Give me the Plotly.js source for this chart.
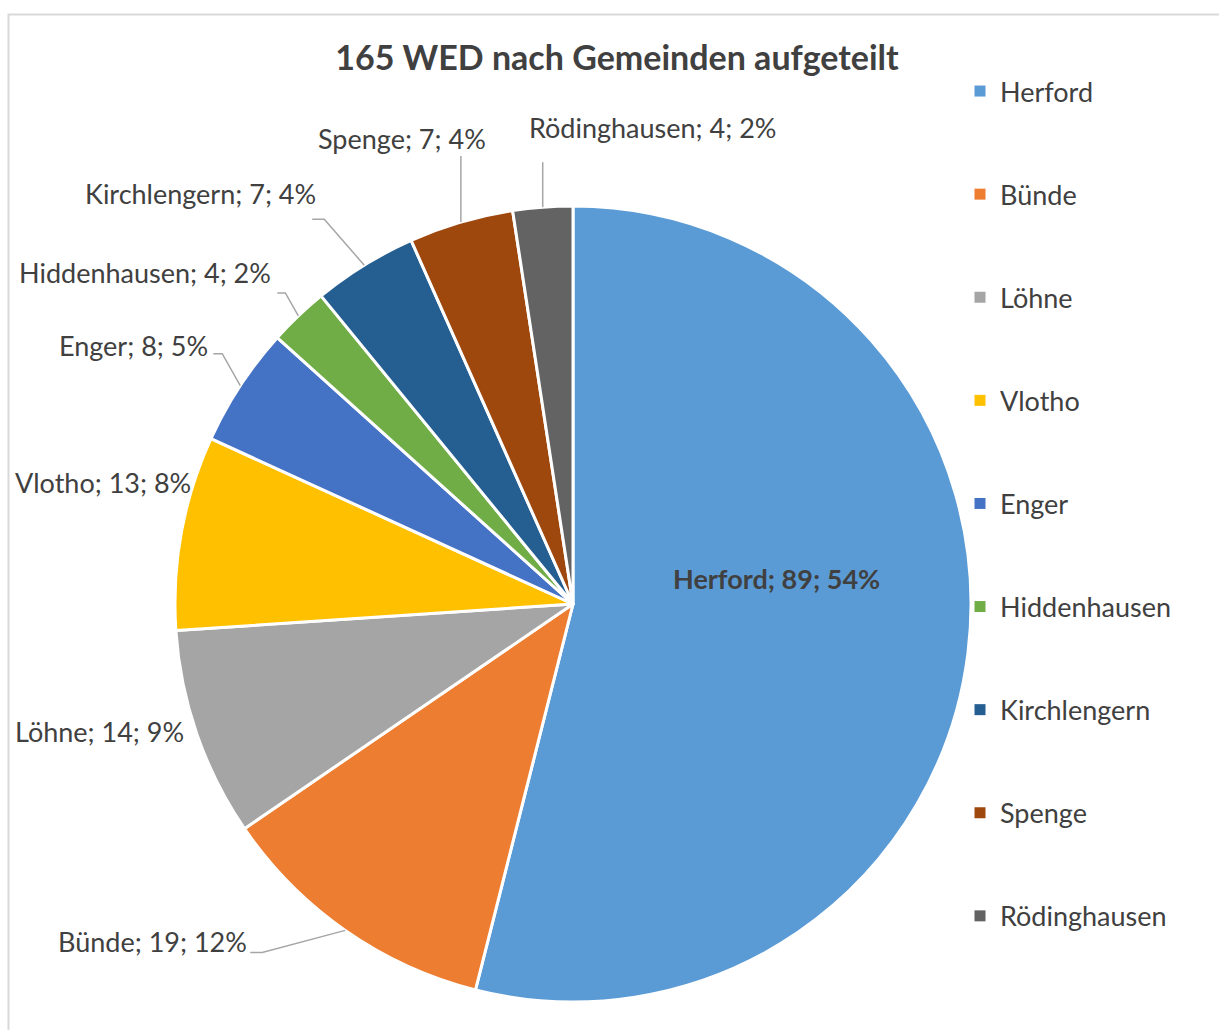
<!DOCTYPE html>
<html>
<head>
<meta charset="utf-8">
<script src="https://cdn.plot.ly/plotly-3.0.1.min.js"></script>
<style>body{margin:0;background:#fff}</style>
</head>
<body>
<div id="chart" style="width:1219px;height:1030px"></div>
<script>
const gemeinden = ['Herford', 'Bünde', 'Löhne', 'Vlotho', 'Enger', 'Hiddenhausen', 'Kirchlengern', 'Spenge', 'Rödinghausen'];
const wed = [89, 19, 14, 13, 8, 4, 7, 7, 4];
const farben = ['#5B9BD5', '#ED7D31', '#A5A5A5', '#FFC000', '#4472C4', '#70AD47', '#255E91', '#9E480E', '#636363'];

const W = 1219, H = 1030;
const cx = 573, cy = 604, rad = 398;   // pie centre / radius in px
const textCol = '#404040';
const fontFam = 'Lato, "Open Sans", sans-serif';

// label centre, px offset from the slice edge at its mid angle
const labelShift = [[-191, -75], [-193, 11], [-97, -3], [-78, -50], [-107, -40], [-153, -43], [-164, -72], [-59, -84], [110, -80]];
// leader lines: [elbow, end] offsets from the same edge point (null = no line)
const leaderPts = [
    null,
    [[-83, 22], [-95, 22]],
    null,
    null,
    [[-18, -32], [-27, -32]],
    [[-13, -23], [-21, -23]],
    [[-40, -46], [-52, -46]],
    [[0, -66], [0, -66]],
    [[0, -45], [0, -45]]
];

// excel style percentages (largest remainder, sums to 100)
function percents(vals) {
    const total = vals.reduce((a, b) => a + b, 0);
    const raw = vals.map(v => v / total * 100);
    const out = raw.map(Math.floor);
    const rest = 100 - out.reduce((a, b) => a + b, 0);
    raw.map((r, i) => [r - Math.floor(r), i])
        .sort((a, b) => b[0] - a[0])
        .slice(0, rest)
        .forEach(p => out[p[1]]++);
    return out;
}

const px = x => x / W;
const py = y => 1 - y / H;

const pct = percents(wed);
const total = wed.reduce((a, b) => a + b, 0);

const annotations = [];
const shapes = [{
    type: 'rect', xref: 'paper', yref: 'paper',
    x0: px(8.5), x1: 1.05, y0: -0.05, y1: py(14.5),
    line: {color: '#D9D9D9', width: 2}
}];

let cum = 0;
gemeinden.forEach((name, i) => {
    const mid = (cum + wed[i] / 2) / total * 2 * Math.PI;
    cum += wed[i];
    const ex = cx + rad * Math.sin(mid);
    const ey = cy - rad * Math.cos(mid);
    const txt = name + '; ' + wed[i] + '; ' + pct[i] + '%';
    annotations.push({
        xref: 'paper', yref: 'paper',
        x: px(ex + labelShift[i][0]), y: py(ey + labelShift[i][1]),
        xanchor: 'center', yanchor: 'middle',
        text: i === 0 ? '<b>' + txt + '</b>' : txt,
        showarrow: false,
        font: {family: fontFam, size: 27, color: textCol}
    });
    if (leaderPts[i]) {
        const [el, en] = leaderPts[i];
        shapes.push({
            type: 'path', xref: 'paper', yref: 'paper',
            path: 'M' + px(ex) + ',' + py(ey) +
                ' L' + px(ex + el[0]) + ',' + py(ey + el[1]) +
                ' L' + px(ex + en[0]) + ',' + py(ey + en[1]),
            line: {color: '#A6A6A6', width: 1.5}
        });
    }
});

const pie = {
    type: 'pie',
    labels: gemeinden,
    values: wed,
    sort: false,
    direction: 'clockwise',
    rotation: 0,
    marker: {colors: farben, line: {color: '#ffffff', width: 3}},
    textinfo: 'none',
    hoverinfo: 'label+value+percent',
    showlegend: false,
    domain: {x: [px(cx - rad), px(cx + rad)], y: [py(cy + rad), py(cy - rad)]}
};

// legend entries (one group each so the gap can be set)
const legendTraces = gemeinden.map((name, i) => ({
    type: 'scatter', x: [null], y: [null], mode: 'markers',
    name: name, legendgroup: name,
    marker: {symbol: 'square', size: 11, color: farben[i]},
    hoverinfo: 'skip'
}));

const layout = {
    width: W, height: H,
    margin: {l: 0, r: 0, t: 0, b: 0},
    paper_bgcolor: '#ffffff', plot_bgcolor: '#ffffff',
    title: {
        text: '<b>165 WED nach Gemeinden aufgeteilt</b>',
        x: px(617), xanchor: 'center', y: py(58), yanchor: 'middle',
        font: {family: fontFam, size: 34, color: textCol}
    },
    xaxis: {visible: false}, yaxis: {visible: false},
    legend: {
        x: px(960), xanchor: 'left', y: py(67), yanchor: 'top',
        font: {family: fontFam, size: 27, color: textCol},
        tracegroupgap: 65, bgcolor: 'rgba(0,0,0,0)'
    },
    annotations: annotations,
    shapes: shapes
};

Plotly.newPlot('chart', [pie].concat(legendTraces), layout, {displayModeBar: false});
</script>
</body>
</html>
